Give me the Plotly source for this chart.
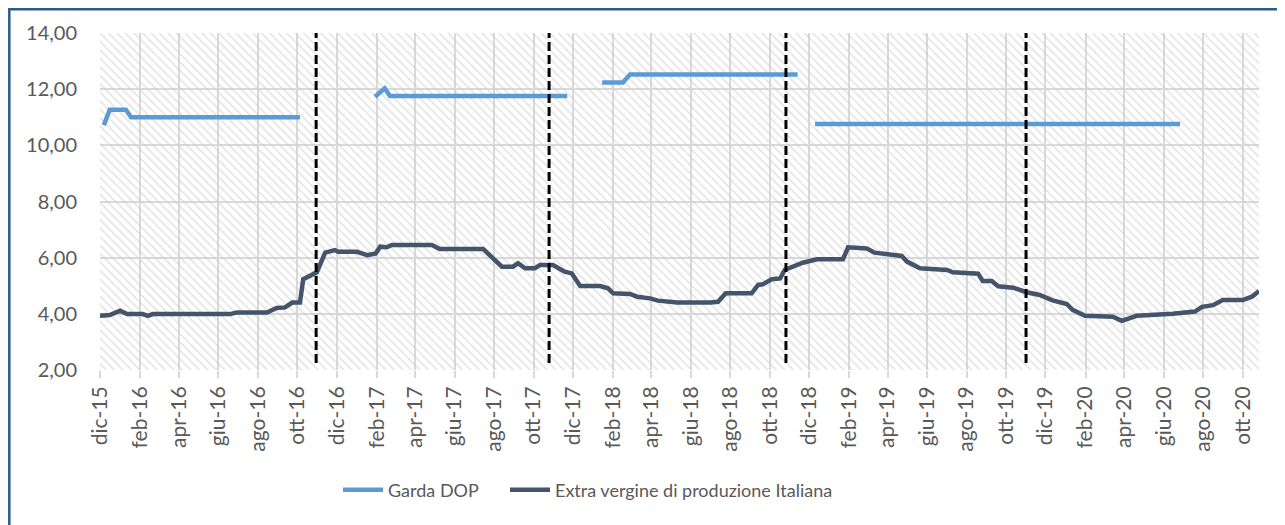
import pandas as pd
import plotly.graph_objects as go

# ---- data ----
extra_dates = ["2015-12-01","2015-12-16","2016-01-01","2016-01-12","2016-02-05","2016-02-13","2016-02-21",
    "2016-06-19","2016-06-30","2016-08-15","2016-08-30","2016-09-12","2016-09-23","2016-10-05","2016-10-10",
    "2016-10-25","2016-10-31","2016-11-13","2016-11-20","2016-11-28","2016-12-03","2017-01-01","2017-01-17",
    "2017-01-30","2017-02-06","2017-02-16","2017-02-24","2017-04-27","2017-05-09","2017-07-15","2017-08-13",
    "2017-08-30","2017-09-07","2017-09-18","2017-10-03","2017-10-11","2017-10-31","2017-11-11","2017-11-18",
    "2017-11-29","2017-12-12","2018-01-12","2018-01-24","2018-02-01","2018-02-27","2018-03-10","2018-03-30",
    "2018-04-11","2018-05-11","2018-07-01","2018-07-13","2018-07-25","2018-09-03","2018-09-13","2018-09-20",
    "2018-10-04","2018-10-17","2018-10-24","2018-11-06","2018-11-21","2018-12-13","2019-01-22","2019-01-30",
    "2019-02-28","2019-03-12","2019-03-31","2019-04-23","2019-05-01","2019-05-21","2019-07-02","2019-07-11",
    "2019-08-19","2019-08-26","2019-09-09","2019-09-19","2019-10-12","2019-11-02","2019-11-22","2019-12-12",
    "2020-01-03","2020-01-12","2020-01-31","2020-03-14","2020-03-28","2020-04-20","2020-06-15","2020-07-19",
    "2020-07-30","2020-08-16","2020-08-31","2020-10-01","2020-10-15","2020-10-26"]
extra_values = [3.93,3.96,4.11,3.99,3.99,3.93,3.99,
    3.99,4.05,4.05,4.21,4.23,4.40,4.40,5.23,
    5.42,5.48,6.18,6.24,6.27,6.21,6.21,6.09,
    6.15,6.39,6.37,6.45,6.45,6.31,6.31,5.68,
    5.68,5.80,5.62,5.62,5.74,5.74,5.62,5.50,
    5.44,4.99,4.99,4.91,4.73,4.71,4.61,4.55,
    4.47,4.40,4.40,4.43,4.73,4.73,5.03,5.05,
    5.23,5.26,5.56,5.70,5.82,5.94,5.94,6.37,
    6.33,6.18,6.13,6.06,5.86,5.62,5.56,5.48,
    5.43,5.17,5.17,4.98,4.93,4.77,4.67,4.48,
    4.35,4.14,3.93,3.90,3.75,3.93,4.00,4.08,
    4.25,4.31,4.49,4.49,4.61,4.81]

garda_dates = ["2015-12-07","2015-12-16","2016-01-10","2016-01-18","2016-10-05", None,
    "2017-01-29","2017-02-13","2017-02-21","2017-11-22", None,
    "2018-01-15","2018-02-16","2018-02-27","2018-11-13", None,
    "2018-12-10","2020-06-26"]
garda_values = [10.72,11.27,11.27,11.00,11.00, None,
    11.73,12.03,11.76,11.76, None,
    12.24,12.24,12.52,12.52, None,
    10.76,10.76]

campaign_marks = ["2016-10-30","2017-10-25","2018-10-26","2019-11-01"]

tick_labels = ["dic-15","feb-16","apr-16","giu-16","ago-16","ott-16",
    "dic-16","feb-17","apr-17","giu-17","ago-17","ott-17",
    "dic-17","feb-18","apr-18","giu-18","ago-18","ott-18",
    "dic-18","feb-19","apr-19","giu-19","ago-19","ott-19",
    "dic-19","feb-20","apr-20","giu-20","ago-20","ott-20"]
tick_dates = pd.date_range("2015-12-01", periods=len(tick_labels), freq="2MS")

x_start, x_end = "2015-12-01", "2020-10-26"
y_min, y_max = 2, 14

FONT = "Lato"
GRAY_TXT = "#595959"
GRID = "#d9d9d9"

# figure geometry (page body adds an 8px offset)
W, H = 1277, 517
ML, MR, MT, MB = 92, 26, 25, 155
PW, PH = W - ML - MR, H - MT - MB

fig = go.Figure()

# hatched plot background
fig.add_trace(go.Scatter(
    x=[x_start, x_end, x_end, x_start, x_start], y=[y_min, y_min, y_max, y_max, y_min],
    fill="toself", mode="none", showlegend=False, hoverinfo="skip",
    fillcolor="rgba(0,0,0,0)",
    fillpattern=dict(shape="\\", fgcolor="#cccccc", bgcolor="rgba(0,0,0,0)", size=6, solidity=0.3),
))

fig.add_trace(go.Scatter(
    x=garda_dates, y=garda_values, mode="lines", name="Garda DOP",
    line=dict(color="#5B9BD5", width=4.5), connectgaps=False, legend="legend",
))
fig.add_trace(go.Scatter(
    x=extra_dates, y=extra_values, mode="lines", name="Extra vergine di produzione Italiana",
    line=dict(color="#44546A", width=4.5), legend="legend2",
))

for d in campaign_marks:
    fig.add_shape(type="line", xref="x", yref="y", x0=d, x1=d, y0=2.25, y1=14,
                  line=dict(color="black", width=3, dash="9px,4px"), layer="above")

# outer frame
fig.add_shape(type="rect", xref="paper", yref="paper",
              x0=(1.3 - ML) / PW, x1=1.05, y0=-0.6, y1=(PH + MT - 1.3) / PH,
              line=dict(color="#2E5A8A", width=2.5), fillcolor="rgba(0,0,0,0)", layer="below")

leg_common = dict(orientation="h", xanchor="left", y=-0.356, yanchor="middle",
                  font=dict(family=FONT, size=18, color=GRAY_TXT), itemwidth=40,
                  bgcolor="rgba(0,0,0,0)")

fig.update_layout(
    width=W, height=H,
    margin=dict(l=ML, r=MR, t=MT, b=MB, autoexpand=False),
    paper_bgcolor="white", plot_bgcolor="white",
    separators=",.",
    font=dict(family=FONT, size=19, color=GRAY_TXT),
    showlegend=True,
    legend=dict(x=(338 - 100) / PW, **leg_common),
    legend2=dict(x=(505 - 100) / PW, **leg_common),
)
fig.update_xaxes(
    type="date", range=[x_start, x_end],
    tickmode="array", tickvals=tick_dates, ticktext=tick_labels, tickangle=-90,
    showgrid=True, gridcolor=GRID, gridwidth=2,
    ticks="outside", ticklen=7, tickwidth=2, tickcolor=GRID,
    showline=False, zeroline=False,
    tickfont=dict(family=FONT, size=21, color=GRAY_TXT),
)
fig.update_yaxes(
    range=[y_min, y_max], tickmode="linear", tick0=2, dtick=2, tickformat=".2f",
    showgrid=True, gridcolor=GRID, gridwidth=2, zeroline=False, showline=False,
    ticks="", ticklabelstandoff=22,
    tickfont=dict(family=FONT, size=20, color=GRAY_TXT),
)

fig.write_html("out.html")
